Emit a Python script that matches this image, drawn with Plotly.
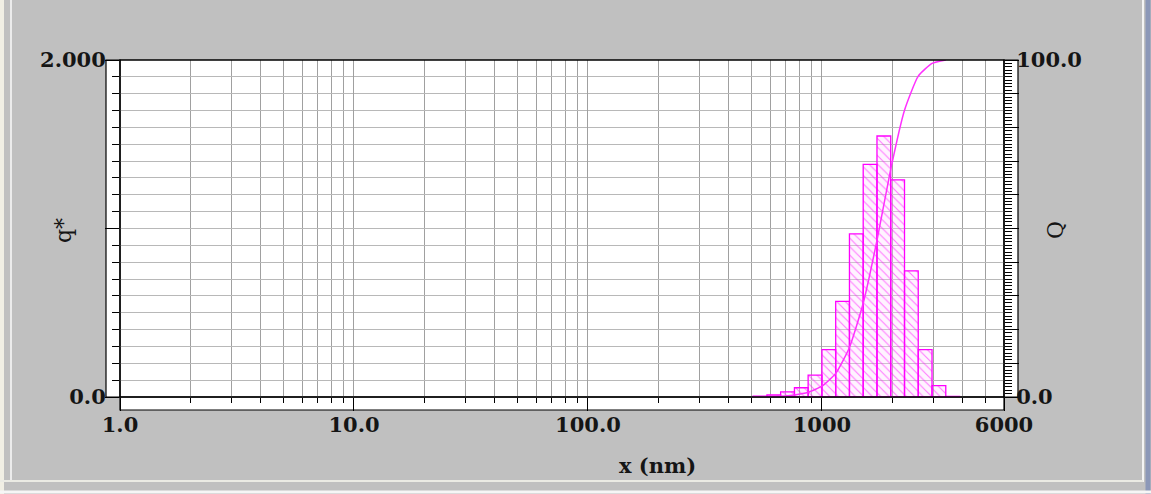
import plotly.graph_objects as go

# ---- data ----
bin_edges_nm = [508, 582, 666, 763, 873, 1000, 1145, 1311, 1501, 1719, 1968, 2254, 2580, 2955, 3383, 3874]
q_density = [0.005, 0.012, 0.030, 0.055, 0.130, 0.281, 0.567, 0.968, 1.381, 1.549, 1.289, 0.749, 0.281, 0.067, 0.004]
Q_cumulative = [0.0, 0.1, 0.2, 0.6, 1.4, 3.2, 7.0, 14.7, 27.8, 46.5, 67.6, 85.1, 95.2, 99.0, 100.0]

x_tick_vals = [1, 10, 100, 1000, 6000]
x_tick_text = ["1.0", "10.0", "100.0", "1000", "6000"]
yl_tick_vals = [0, 2]
yl_tick_text = ["0.0", "2.000"]
yr_tick_vals = [0, 100]
yr_tick_text = ["0.0", "100.0"]

W, H = 1151, 494
L, R, T, B = 120, 147, 60, 97
PW, PH = W - L - R, H - T - B

FONT = "DejaVu Serif"
MAG = "#ff00ff"
TXT = "#151515"
XR = [0, 3.77815]

# bars as closed polygons on the log axis
bx, by = [], []
for i, h in enumerate(q_density):
    e0, e1 = bin_edges_nm[i], bin_edges_nm[i + 1]
    bx += [e0, e0, e1, e1, e0, None]
    by += [0, h, h, 0, 0, None]

fig = go.Figure()
fig.add_trace(go.Scatter(
    x=bx, y=by, mode="lines", fill="toself",
    line=dict(color=MAG, width=1.3),
    fillcolor="rgba(255,210,255,0.3)",
    fillpattern=dict(shape="\\", fgcolor=MAG, bgcolor="rgba(255,215,255,0.3)", size=6, solidity=0.18),
    hoverinfo="skip", showlegend=False, xaxis="x", yaxis="y"))

fig.add_trace(go.Scatter(
    x=bin_edges_nm[:len(Q_cumulative)], y=Q_cumulative, mode="lines",
    line=dict(color="#ff30ff", width=1.5, shape="spline", smoothing=0.5),
    showlegend=False, xaxis="x", yaxis="y2"))

# empty placeholder traces so the extra tick/label axes get drawn (no visible marks)
for xa, ya in [("x2", "y"), ("x", "y3"), ("x", "y4")]:
    fig.add_trace(go.Scatter(x=[None], y=[None], mode="lines", xaxis=xa, yaxis=ya,
                             hoverinfo="skip", showlegend=False))

minor_x = [k * 10 ** n for n in range(0, 4) for k in range(2, 10) if k * 10 ** n < 6000]
minor_yl = [i / 10 for i in range(0, 21)]
comb_yr = list(range(0, 101))
major_yr = list(range(0, 101, 10))

tick_font = dict(family=FONT, size=21, weight="bold", color=TXT)
CLEAR = "rgba(0,0,0,0)"

fig.update_layout(
    width=W, height=H,
    margin=dict(l=L, r=R, t=T, b=B, pad=0),
    paper_bgcolor="#c0c0c0", plot_bgcolor="white",
    font=dict(family=FONT, size=20, color=TXT),
    # main x axis: grid + tick marks
    xaxis=dict(
        type="log", range=XR, tickmode="array", tickvals=x_tick_vals,
        ticks="outside", ticklen=13, tickwidth=1, tickcolor="black", showticklabels=False,
        showgrid=True, gridcolor="#a0a0a0", gridwidth=1,
        showline=False, zeroline=False,
        minor=dict(tickmode="array", tickvals=minor_x, ticks="outside", ticklen=5,
                   tickcolor="black", tickwidth=1, showgrid=True, gridcolor="#a0a0a0", gridwidth=1),
    ),
    # x tick labels
    xaxis2=dict(
        type="log", range=XR, overlaying="x", anchor="y", side="bottom",
        tickmode="array", tickvals=x_tick_vals, ticktext=x_tick_text,
        ticks="outside", ticklen=9, tickcolor=CLEAR, showgrid=False, showline=False, zeroline=False,
        tickfont=tick_font,
    ),
    # left y: grid + ticks
    yaxis=dict(
        range=[0, 2], tickmode="array", tickvals=[0, 1, 2],
        ticks="outside", ticklen=14, tickwidth=1, tickcolor="black", showticklabels=False,
        showgrid=True, gridcolor="#b8b8b8", gridwidth=1,
        showline=False, zeroline=False,
        minor=dict(tickmode="array", tickvals=minor_yl, ticks="outside", ticklen=7,
                   tickcolor="black", tickwidth=1, showgrid=True, gridcolor="#b8b8b8", gridwidth=1),
    ),
    # right y: long ticks every 10
    yaxis2=dict(
        range=[0, 100], overlaying="y", side="right", anchor="x", tickmode="array",
        tickvals=major_yr, ticks="outside", ticklen=14, tickwidth=1, tickcolor="black",
        showticklabels=False, showgrid=False, showline=False, zeroline=False,
    ),
    # right y: short comb every 1 + labels
    yaxis3=dict(
        range=[0, 100], overlaying="y", side="right", anchor="x", tickmode="array",
        tickvals=comb_yr, ticktext=[yr_tick_text[yr_tick_vals.index(v)] if v in yr_tick_vals else "" for v in comb_yr],
        ticks="outside", ticklen=7, tickwidth=1, tickcolor="black",
        showgrid=False, showline=False, zeroline=False, tickfont=tick_font,
    ),
    # left y labels
    yaxis4=dict(
        range=[0, 2], overlaying="y", side="left", anchor="x", tickmode="array",
        tickvals=yl_tick_vals, ticktext=yl_tick_text,
        ticks="outside", ticklen=9, tickcolor=CLEAR,
        showgrid=False, showline=False, zeroline=False, tickfont=tick_font,
    ),
)

def px_x(p):
    return (p - L) / PW

def px_y(p):
    return (H - B - p) / PH

shapes = [
    # tick strips (white, framed)
    dict(type="rect", xref="paper", yref="paper", x0=px_x(106), x1=0, y0=0, y1=1,
         fillcolor="white", line=dict(color="black", width=1.2), layer="below"),
    dict(type="rect", xref="paper", yref="paper", x0=1, x1=px_x(1018), y0=0, y1=1,
         fillcolor="white", line=dict(color="black", width=1.2), layer="below"),
    dict(type="rect", xref="paper", yref="paper", x0=0, x1=1, y0=px_y(410), y1=0,
         fillcolor="white", line=dict(color="black", width=1.2), layer="below"),
    # main frame
    dict(type="rect", xref="paper", yref="paper", x0=0, x1=1, y0=0, y1=1,
         line=dict(color="black", width=1.4), layer="above"),
    # window borders
    dict(type="line", xref="paper", yref="paper", x0=px_x(2), x1=px_x(2), y0=px_y(0), y1=px_y(494),
         line=dict(color="#f1efe4", width=4), layer="below"),
    dict(type="line", xref="paper", yref="paper", x0=px_x(11), x1=px_x(11), y0=px_y(0), y1=px_y(482),
         line=dict(color="#ececec", width=2), layer="below"),
    dict(type="line", xref="paper", yref="paper", x0=px_x(1143), x1=px_x(1143), y0=px_y(0), y1=px_y(482),
         line=dict(color="#f4f4f4", width=2), layer="below"),
    dict(type="line", xref="paper", yref="paper", x0=px_x(1148), x1=px_x(1148), y0=px_y(0), y1=px_y(494),
         line=dict(color="#8c98b8", width=5), layer="below"),
    dict(type="line", xref="paper", yref="paper", x0=px_x(0), x1=px_x(1143), y0=px_y(481), y1=px_y(481),
         line=dict(color="#ebebe4", width=2), layer="below"),
    dict(type="line", xref="paper", yref="paper", x0=px_x(0), x1=px_x(1151), y0=px_y(492), y1=px_y(492),
         line=dict(color="#f6f6f6", width=3), layer="below"),
]
fig.update_layout(shapes=shapes)

fig.add_annotation(text="x (nm)", xref="paper", yref="paper", x=px_x(657), y=px_y(465),
                   xanchor="center", yanchor="middle",
                   showarrow=False, font=dict(family=FONT, size=21, weight="bold", color=TXT))
fig.add_annotation(text="q*", xref="paper", yref="paper", x=px_x(63), y=px_y(230), textangle=-90,
                   xanchor="center", yanchor="middle",
                   showarrow=False, font=dict(family=FONT, size=22, color=TXT))
fig.add_annotation(text="Q", xref="paper", yref="paper", x=px_x(1055), y=px_y(230), textangle=-90,
                   xanchor="center", yanchor="middle",
                   showarrow=False, font=dict(family=FONT, size=22, color=TXT))

fig.write_html("out.html")
